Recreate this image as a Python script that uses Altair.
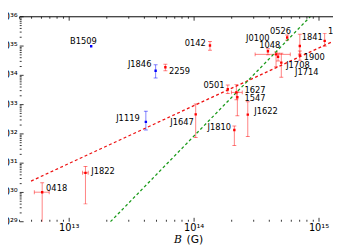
import altair as alt
import pandas as pd

# ---- data ----
names = ["0418", "J1822", "B1509", "J1846", "2259", "J1119", "0142", "J1647", "0501",
         "1627", "1547", "J1622", "J1810", "J0100", "1048", "J1708", "J1714", "0526",
         "1841", "1900", "1806"]
b_field = [6.08e12, 1.35e13, 1.50e13, 4.92e13, 5.89e13, 4.11e13, 1.34e14, 1.03e14, 1.86e14,
           2.18e14, 2.22e14, 2.69e14, 2.10e14, 3.90e14, 4.53e14, 4.70e14, 4.99e14, 5.56e14,
           7.02e14, 7.02e14, 1.11e15]
lum = [1.02e30, 4.68e30, 9.8e34, 1.44e34, 1.89e34, 2.57e32, 1.05e35, 4.64e32, 3.33e33,
       2.61e33, 1.78e33, 4.54e32, 1.36e32, 6.65e34, 5.2e34, 4.3e34, 2.71e34, 1.95e35,
       1.0e35, 4.82e34, 1.5e35]
lum_hi = [2.14e30, 7.76e30, 9.8e34, 2.28e34, 2.38e34, 5.98e32, 1.44e35, 1.05e33, 4.65e33,
          4.82e33, 2.71e33, 1.26e33, 1.85e32, 8.1e34, 6.3e34, 5.7e34, 5.7e34, 2.38e35,
          2.51e35, 6.8e34, 2.71e35]
lum_lo = [3e28, 4.07e29, 9.8e34, 8.1e33, 1.44e34, 1.36e32, 7.2e34, 7.5e31, 2.38e33,
          1.47e33, 4.14e32, 8.1e31, 4.0e31, 5.0e34, 1.95e34, 3.09e34, 8.6e33, 1.58e35,
          5.4e34, 3.29e34, 9.8e34]
kind = ["red", "red", "blue", "blue", "red", "blue", "red", "red", "red",
        "red", "red", "red", "red", "red", "red", "red", "red", "red",
        "red", "red", "red"]

xerr_names = ["0418", "J1822", "1627", "1048"]
xerr_b = [6.08e12, 1.35e13, 2.18e14, 4.53e14]
xerr_l = [1.02e30, 4.68e30, 2.61e33, 5.2e34]
xerr_lo = [5.26e12, 1.28e13, 1.99e14, 3.08e14]
xerr_hi = [6.92e12, 1.42e13, 2.43e14, 5.89e14]

red_line_b = [4.95e12, 1.29e15]
red_line_l = [2.45e30, 1.44e35]
green_line_b = [2.14e13, 8.59e14]
green_line_l = [1e29, 1.05e36]

# label placement (style): dx, dy, align
label_dx = [4, 6, 5.7, -4.3, 3.7, -6.3, -4.3, -2, -3.3, 8.3, 7.3, 6.6, -3.3, 1.7, 4.3, 8.3, 14, 4, 2, 4, 3.3]
label_dy = [-4.7, -2.3, -5.3, -6.3, 3.6, -3.4, -2, 7.7, -4.3, -2.8, 1.2, -3.3, -2.7, -13.8, -10, 8.5, 9.5, -6.3, -8.7, 1.8, -10]
label_align = ["left", "left", "right", "right", "left", "right", "right", "right", "right",
               "left", "left", "left", "right", "right", "right", "left", "left", "right",
               "left", "left", "left"]

# ---- axis ticks and tick labels ----
x_major = [1e13, 1e14, 1e15]
x_major_labels = ["10¹³", "10¹⁴", "10¹⁵"]
x_minor = [k * 10 ** e for e in (12, 13, 14) for k in range(2, 10) if 3.99e12 < k * 10 ** e < 1.29e15]
y_major = [1e29, 1e30, 1e31, 1e32, 1e33, 1e34, 1e35, 1e36]
y_major_labels = ["10²⁹", "10³⁰", "10³¹", "10³²", "10³³", "10³⁴", "10³⁵", "10³⁶"]
y_minor = [k * 10.0 ** e for e in range(29, 36) for k in range(2, 10)]

W, H = 321, 210
FONT = "DejaVu Sans"

xscale = alt.Scale(type="log", domain=[10 ** 12.604, 10 ** 15.112], nice=False)
yscale = alt.Scale(type="log", domain=[1e29, 1e36], nice=False)

xaxis = alt.Axis(values=x_major, labels=False, ticks=False, domain=True,
                 domainColor="black", domainWidth=1, grid=False, title=None)
yaxis = alt.Axis(values=y_major, labels=False, ticks=False, domain=True,
                 domainColor="black", domainWidth=1, grid=False, title=None)

df = pd.DataFrame({"name": names, "B": b_field, "L": lum, "L_hi": lum_hi,
                   "L_lo": lum_lo, "kind": kind})
dfx = pd.DataFrame({"name": xerr_names, "B": xerr_b, "L": xerr_l,
                    "B_lo": xerr_lo, "B_hi": xerr_hi})

bar_color = alt.Color("kind:N", scale=alt.Scale(domain=["red", "blue"],
                                                range=["#ff0000", "#0000ff"]), legend=None)
pt_color = alt.Color("kind:N", scale=alt.Scale(domain=["red", "blue"],
                                               range=["#d00000", "#000080"]), legend=None)

X = lambda f: alt.X(f, scale=xscale, axis=None)
Y = lambda f: alt.Y(f, scale=yscale, axis=None)

has_err = alt.datum.L_hi > alt.datum.L_lo

base = alt.Chart(df)
vbars = base.transform_filter(has_err).mark_rule(strokeWidth=1, opacity=0.5, clip=True).encode(
    x=alt.X("B:Q", scale=xscale, axis=xaxis),
    y=alt.Y("L_lo:Q", scale=yscale, axis=yaxis),
    y2="L_hi:Q", color=bar_color)
cap_hi = base.transform_filter(has_err).mark_tick(orient="horizontal", size=4, thickness=1,
                                                   opacity=0.5, clip=True).encode(
    x=X("B:Q"), y=Y("L_hi:Q"), color=bar_color)
cap_lo = base.transform_filter(has_err).mark_tick(orient="horizontal", size=4, thickness=1,
                                                   opacity=0.5, clip=True).encode(
    x=X("B:Q"), y=Y("L_lo:Q"), color=bar_color)

basex = alt.Chart(dfx)
hbars = basex.mark_rule(strokeWidth=1, opacity=0.5, color="#ff0000", clip=True).encode(
    x=X("B_lo:Q"), x2="B_hi:Q", y=Y("L:Q"))
hcap_lo = basex.mark_tick(orient="vertical", size=4, thickness=1, opacity=0.5,
                          color="#ff0000", clip=True).encode(x=X("B_lo:Q"), y=Y("L:Q"))
hcap_hi = basex.mark_tick(orient="vertical", size=4, thickness=1, opacity=0.5,
                          color="#ff0000", clip=True).encode(x=X("B_hi:Q"), y=Y("L:Q"))

points = base.mark_square(size=6, opacity=1, clip=True).encode(
    x=X("B:Q"), y=Y("L:Q"), color=pt_color)

red_line = alt.Chart(pd.DataFrame({"B": red_line_b, "L": red_line_l})).mark_line(
    color="#ee1111", strokeDash=[3, 2.5], strokeWidth=1.3, clip=True).encode(
    x=X("B:Q"), y=Y("L:Q"))
green_line = alt.Chart(pd.DataFrame({"B": green_line_b, "L": green_line_l})).mark_line(
    color="#1a9a1a", strokeDash=[3, 2.5], strokeWidth=1.3, clip=True).encode(
    x=X("B:Q"), y=Y("L:Q"))

labels = []
for n, dx, dy, al in zip(names, label_dx, label_dy, label_align):
    labels.append(base.transform_filter(alt.datum.name == n).mark_text(
        align=al, baseline="middle", dx=dx, dy=dy, font=FONT, fontSize=8.5,
        color="black").encode(x=X("B:Q"), y=Y("L:Q"), text="name:N"))


# inward ticks
def xticks(vals, length):
    d = alt.Chart(pd.DataFrame({"v": vals}))
    bot = d.mark_rule(color="black", strokeWidth=0.8).encode(
        x=X("v:Q"), y=alt.value(H), y2=alt.value(H - length))
    top = d.mark_rule(color="black", strokeWidth=0.8).encode(
        x=X("v:Q"), y=alt.value(0), y2=alt.value(length))
    return [bot, top]


def yticks(vals, length):
    d = alt.Chart(pd.DataFrame({"v": vals}))
    return [d.mark_rule(color="black", strokeWidth=0.8).encode(
        y=Y("v:Q"), x=alt.value(0), x2=alt.value(length))]


tick_layers = xticks(x_major, 4) + xticks(x_minor, 2) + yticks(y_major, 4) + yticks(y_minor, 2)

xlab = alt.Chart(pd.DataFrame({"v": x_major, "t": x_major_labels})).mark_text(
    font=FONT, fontSize=10, align="center", baseline="top", color="black").encode(
    x=X("v:Q"), y=alt.value(H + 1), text="t:N")
ylab = alt.Chart(pd.DataFrame({"v": y_major, "t": y_major_labels})).mark_text(
    font=FONT, fontSize=10, align="right", baseline="middle", color="black").encode(
    y=Y("v:Q"), x=alt.value(-2), text="t:N")

top_frame = alt.Chart(pd.DataFrame({"a": [0]})).mark_rule(color="black", strokeWidth=1).encode(
    x=alt.value(0), x2=alt.value(W), y=alt.value(0))

title_df = pd.DataFrame({"t": ["B"], "u": ["(G)"]})
title_b = alt.Chart(title_df).mark_text(font="DejaVu Serif", fontStyle="italic", fontSize=11,
                                        align="left", baseline="middle", color="black").encode(
    x=alt.value(158), y=alt.value(229), text="t:N")
title_g = alt.Chart(title_df).mark_text(font=FONT, fontSize=11, align="left",
                                        baseline="middle", color="black").encode(
    x=alt.value(171), y=alt.value(229), text="u:N")

chart = alt.layer(
    vbars, cap_hi, cap_lo, hbars, hcap_lo, hcap_hi, red_line, green_line, points,
    *labels, *tick_layers, xlab, ylab, top_frame, title_b, title_g
).properties(
    width=W, height=H,
    autosize=alt.AutoSizeParams(type="none"),
    padding={"left": 12, "top": 6, "right": 0, "bottom": 27},
).configure_view(stroke=None)

chart.save("out.html", embed_options={"renderer": "svg", "actions": False})
